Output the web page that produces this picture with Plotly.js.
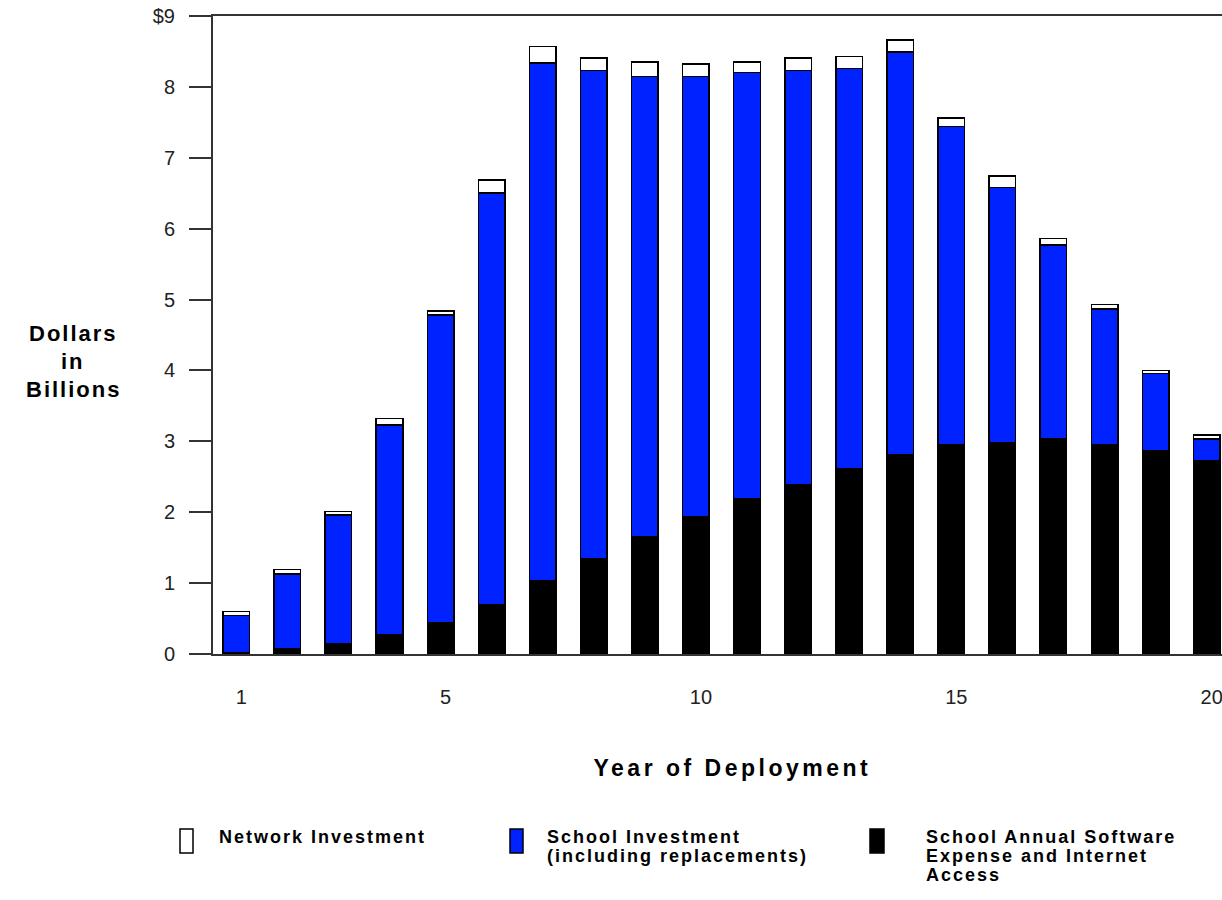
<!DOCTYPE html>
<html>
<head>
<meta charset="utf-8">
<script src="https://cdn.plot.ly/plotly-3.0.1.min.js"></script>
<style>
  html, body { margin: 0; padding: 0; background: #fff; }
  #chart { width: 1222px; height: 900px; }
  .annotation-text { letter-spacing: 2px; }
</style>
</head>
<body>
<div id="chart"></div>
<script>
// ---- data ----
const years = [1,2,3,4,5,6,7,8,9,10,11,12,13,14,15,16,17,18,19,20];
const softwareInternet = [0.02,0.07,0.15,0.27,0.44,0.69,1.04,1.34,1.65,1.94,2.19,2.39,2.61,2.81,2.95,2.98,3.04,2.95,2.87,2.72];
const schoolInvestment = [0.52,1.06,1.81,2.96,4.34,5.81,7.30,6.89,6.50,6.21,6.01,5.84,5.65,5.68,4.49,3.60,2.73,1.92,1.09,0.31];
const networkInvestment = [0.06,0.06,0.05,0.09,0.06,0.19,0.23,0.18,0.20,0.17,0.15,0.18,0.17,0.17,0.12,0.16,0.09,0.06,0.04,0.06];

const xTickVals = [1,5,10,15,20];
const xTickText = ['1','5','10','15','20'];
const yTickVals = [0,1,2,3,4,5,6,7,8,9];
const yTickText = ['0','1','2','3','4','5','6','7','8','$9'];

const seriesNames = ['Network Investment', 'School Investment<br>(including replacements)', 'School Annual Software<br>Expense and Internet<br>Access'];
const seriesColors = ['#ffffff', '#0022ff', '#000000'];
const xTitle = 'Year of Deployment';
const yTitle = 'Dollars<br>in<br>Billions';

// ---- geometry helpers (pixels -> paper) ----
const W = 1222, H = 900;
const M = {l: 213, r: 0, t: 16, b: 246};
const PW = W - M.l - M.r, PH = H - M.t - M.b;
const px = v => (v - M.l) / PW;
const py = v => (H - M.b - v) / PH;

const lineStyle = {color: '#000', width: 1.5};
const traces = [
  {type: 'bar', x: years, y: softwareInternet, name: seriesNames[2], marker: {color: seriesColors[2], line: lineStyle}},
  {type: 'bar', x: years, y: schoolInvestment, name: seriesNames[1], marker: {color: seriesColors[1], line: lineStyle}},
  {type: 'bar', x: years, y: networkInvestment, name: seriesNames[0], marker: {color: seriesColors[0], line: lineStyle}}
];

const FAM = 'Liberation Sans, Arial, sans-serif';
const titleFont = {family: FAM, size: 23, color: '#000', weight: 'bold'};
const yTitleFont = {family: FAM, size: 22, color: '#000', weight: 'bold'};
const legFont = {family: FAM, size: 18, color: '#000', weight: 'bold'};
const tickFont = {family: FAM, size: 20, color: '#222'};

// custom legend: tall rectangles + bold text
const legendBoxes = [
  {x0: 180, x1: 193},
  {x0: 510, x1: 523},
  {x0: 870, x1: 884}
];
const legendTextX = [217, 545, 924];
const shapes = legendBoxes.map((b, i) => ({
  type: 'rect', xref: 'paper', yref: 'paper',
  x0: px(b.x0), x1: px(b.x1), y0: py(829), y1: py(853),
  fillcolor: seriesColors[i], line: {color: '#000', width: 1.5}
}));
const annotations = [];
seriesNames.forEach((t, i) => {
  t.split('<br>').forEach((line, k) => {
    annotations.push({
      text: line, xref: 'paper', yref: 'paper', x: px(legendTextX[i]), y: py(837 + 19 * k),
      xanchor: 'left', yanchor: 'middle', align: 'left', showarrow: false, font: legFont
    });
  });
});
yTitle.split('<br>').forEach((line, k) => {
  annotations.push({
    text: line, xref: 'paper', yref: 'paper', x: px(73), y: py(333 + 28 * k),
    xanchor: 'center', yanchor: 'middle', align: 'center', showarrow: false, font: yTitleFont
  });
});
// x-axis title (last annotation, wider letter spacing)
annotations.push({
  text: xTitle, xref: 'paper', yref: 'paper', x: px(732), y: py(768),
  xanchor: 'center', yanchor: 'middle', showarrow: false, font: titleFont
});
const st = document.createElement('style');
st.textContent = '.annotation[data-index="' + (annotations.length - 1) + '"] .annotation-text { letter-spacing: 3.5px; }';
document.head.appendChild(st);

const layout = {
  width: W, height: H, autosize: false,
  margin: M,
  paper_bgcolor: '#fff', plot_bgcolor: '#fff',
  barmode: 'stack', bargap: 0.48,
  showlegend: false,
  xaxis: {
    range: [0.544, 20.3], tickvals: xTickVals, ticktext: xTickText,
    showgrid: false, zeroline: false, showline: true, mirror: true,
    linecolor: '#333', linewidth: 2, ticks: '', ticklabelstandoff: 24, ticklabelshift: 5,
    ticklabeloverflow: 'allow',
    tickfont: tickFont
  },
  yaxis: {
    range: [0, 9], tickvals: yTickVals, ticktext: yTickText,
    showgrid: false, zeroline: false, showline: true,
    linecolor: '#333', linewidth: 2, ticks: 'outside', ticklen: 22, tickwidth: 2, tickcolor: '#333',
    ticklabelstandoff: 10,
    tickfont: tickFont
  },
  shapes: shapes,
  annotations: annotations
};

Plotly.newPlot('chart', traces, layout, {displayModeBar: false, staticPlot: true});
</script>
</body>
</html>
